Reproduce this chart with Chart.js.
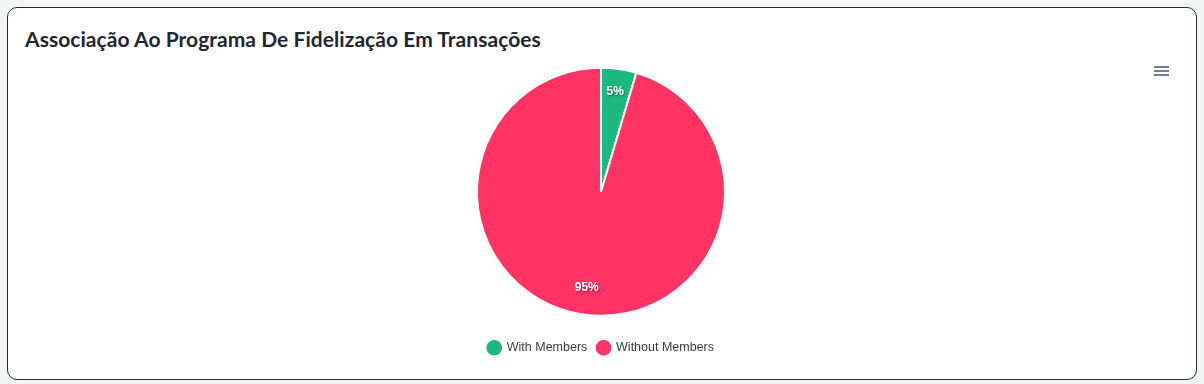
<!DOCTYPE html>
<html>
<head>
<meta charset="utf-8">
<script src="https://cdn.jsdelivr.net/npm/chart.js@4"></script>
<style>
  html, body { margin: 0; padding: 0; background: #f3f5f5; }
  body { width: 1204px; height: 384px; position: relative; overflow: hidden; }
  .card {
    position: absolute; left: 7px; top: 7px; width: 1188px; height: 371px;
    background: #fff; border: 1px solid #1e2a3a; border-radius: 10px;
  }
  .title {
    position: absolute; left: 17px; top: 18px;
    font-family: Lato, "Noto Sans", sans-serif; font-weight: 700; font-size: 21px;
    color: #1f2630; letter-spacing: 0.05px;
  }
  .menu { position: absolute; left: 1146px; top: 58px; width: 15px; }
  .menu span { display: block; height: 2px; background: #6e8192; margin-bottom: 2px; }
  .wrap { position: absolute; left: 0px; top: 44px; width: 1186px; height: 312px; }
</style>
</head>
<body>
<div class="card">
  <div class="title">Associação Ao Programa De Fidelização Em Transações</div>
  <div class="menu"><span></span><span></span><span></span></div>
  <div class="wrap"><canvas id="pie"></canvas></div>
</div>
<script>
const labels = ['With Members', 'Without Members'];
const values = [4.6, 95.4];
const colors = ['#1bb97e', '#ff3363'];

// percentage labels drawn on the slices
const sliceLabels = {
  id: 'sliceLabels',
  afterDatasetsDraw(chart) {
    const ctx = chart.ctx;
    const meta = chart.getDatasetMeta(0);
    const total = values.reduce((a, b) => a + b, 0);
    ctx.save();
    ctx.font = 'bold 12px "Liberation Sans", Arial, sans-serif';
    ctx.fillStyle = '#fff';
    ctx.textAlign = 'center';
    ctx.textBaseline = 'middle';
    ctx.shadowColor = 'rgba(0,0,0,0.45)';
    ctx.shadowBlur = 2;
    ctx.shadowOffsetX = 1;
    ctx.shadowOffsetY = 1;
    meta.data.forEach((arc, i) => {
      const p = arc.getProps(['x', 'y', 'startAngle', 'endAngle', 'outerRadius']);
      const mid = (p.startAngle + p.endAngle) / 2;
      const r = p.outerRadius * 0.8;
      const txt = Math.round(values[i] / total * 100) + '%';
      ctx.fillText(txt, p.x + Math.cos(mid) * r, p.y + Math.sin(mid) * r - 2);
    });
    ctx.restore();
  }
};

new Chart(document.getElementById('pie').getContext('2d'), {
  type: 'pie',
  data: {
    labels: labels,
    datasets: [{
      data: values,
      backgroundColor: colors,
      borderColor: '#fff',
      borderWidth: 2,
      hoverOffset: 0
    }]
  },
  options: {
    responsive: true,
    maintainAspectRatio: false,
    animation: false,
    radius: 124,
    layout: { padding: 0 },
    plugins: {
      tooltip: { enabled: false },
      legend: {
        position: 'bottom',
        labels: {
          usePointStyle: true,
          pointStyle: 'circle',
          boxWidth: 13,
          boxHeight: 13,
          padding: 10,
          color: '#373d3f',
          font: { family: '"Liberation Sans", Arial, sans-serif', size: 12.5 }
        }
      }
    }
  },
  plugins: [sliceLabels]
});
</script>
</body>
</html>
